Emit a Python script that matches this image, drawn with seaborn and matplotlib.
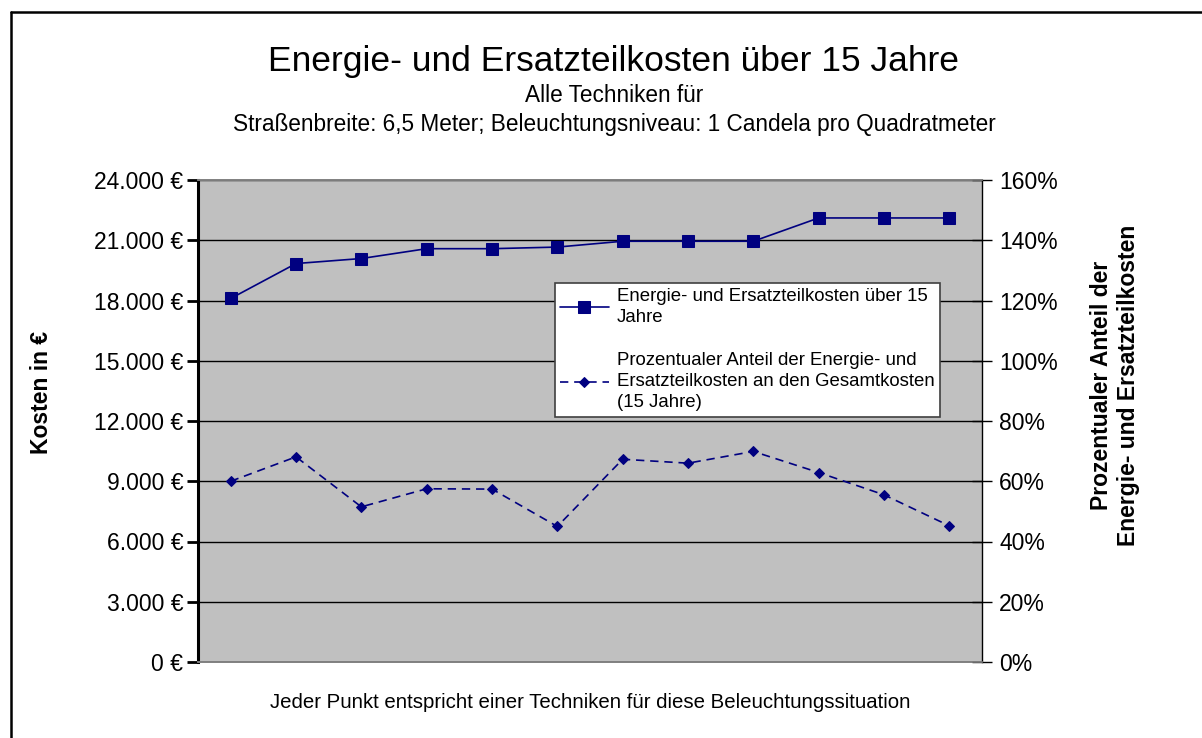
import numpy as np
import pandas as pd
import matplotlib
matplotlib.use("Agg")
import matplotlib.pyplot as plt
from matplotlib.lines import Line2D
from matplotlib.ticker import FuncFormatter, FixedLocator
import seaborn as sns

# ---- data ----
techniques = [f"T{i}" for i in range(1, 13)]
costs = [18100, 19840, 20090, 20580, 20580, 20660, 20950, 20950, 20950, 22110, 22110, 22110]
share = [60.0, 68.1, 51.5, 57.5, 57.4, 45.0, 67.3, 66.0, 69.9, 62.9, 55.5, 45.2]
left_ticks = [0, 3000, 6000, 9000, 12000, 15000, 18000, 21000, 24000]
right_ticks = [0, 20, 40, 60, 80, 100, 120, 140, 160]

title = "Energie- und Ersatzteilkosten über 15 Jahre"
subtitle1 = "Alle Techniken für"
subtitle2 = "Straßenbreite: 6,5 Meter; Beleuchtungsniveau: 1 Candela pro Quadratmeter"
xlabel = "Jeder Punkt entspricht einer Techniken für diese Beleuchtungssituation"
ylabel_left = "Kosten in €"
ylabel_right = "Prozentualer Anteil der\nEnergie- und Ersatzteilkosten"
label1 = "Energie- und Ersatzteilkosten über 15\nJahre"
label2 = "Prozentualer Anteil der Energie- und\nErsatzteilkosten an den Gesamtkosten\n(15 Jahre)"

df = pd.DataFrame({"technik": techniques, "pos": np.arange(len(techniques)),
                   "kosten": costs, "anteil": share})

sns.set_style("white")
plt.rcParams["font.family"] = ["Liberation Sans", "DejaVu Sans"]
plt.rcParams["text.color"] = "black"
plt.rcParams["axes.labelcolor"] = "black"
plt.rcParams["xtick.color"] = "black"
plt.rcParams["ytick.color"] = "black"

navy = "#000080"
fig = plt.figure(figsize=(12.02, 7.38), dpi=100)
ax = fig.add_axes([198/1202, 1-662/738, 784/1202, 482/738])
ax.set_facecolor("#C0C0C0")

sns.lineplot(data=df, x="pos", y="kosten", ax=ax, color=navy, marker="s",
             markersize=9, markeredgecolor=navy, linewidth=1.2, label=label1, legend=False)
ax2 = ax.twinx()
sns.lineplot(data=df, x="pos", y="anteil", ax=ax2, color=navy, marker="D",
             markersize=5, markeredgecolor=navy, linewidth=1.2, linestyle=(0, (5, 3.5)),
             label=label2, legend=False)

ax.set_xlim(-0.5, len(techniques) - 0.5)
ax.set_ylim(left_ticks[0], left_ticks[-1])
ax2.set_ylim(right_ticks[0], right_ticks[-1])
ax.set_xticks([])
ax.set_xlabel(xlabel, fontsize=14.7, labelpad=22, color="black")
ax.set_ylabel("")
ax2.set_ylabel("")

ax.yaxis.set_major_locator(FixedLocator(left_ticks))
ax.yaxis.set_major_formatter(FuncFormatter(lambda v, p: f"{int(v):,} €".replace(",", ".")))
ax2.yaxis.set_major_locator(FixedLocator(right_ticks))
ax2.yaxis.set_major_formatter(FuncFormatter(lambda v, p: f"{int(v)}%"))

ax.grid(axis="y", color="black", linewidth=1)
ax.set_axisbelow(True)
ax.tick_params(axis="y", direction="out", length=8, width=2, labelsize=16.5, pad=2.5,
               left=True, colors="black")
ax2.tick_params(axis="y", direction="inout", length=14, width=1, labelsize=16.5, pad=5.5,
                right=True, colors="black")

for a in (ax, ax2):
    a.spines["top"].set_color("#808080")
    a.spines["bottom"].set_color("#808080")
    a.spines["top"].set_linewidth(1.2)
    a.spines["bottom"].set_linewidth(1.2)
ax.spines["left"].set_color("black")
ax.spines["left"].set_linewidth(2.2)
ax2.spines["left"].set_visible(False)
ax.spines["right"].set_visible(False)
ax2.spines["right"].set_color("black")
ax2.spines["right"].set_linewidth(1)

# axis titles
fig.text(42/1202, 1-392/738, ylabel_left, rotation=90, ha="center", va="center",
         fontsize=16.5, fontweight="bold", color="black")
fig.text(1115/1202, 1-385/738, ylabel_right, rotation=90, ha="center", va="center",
         fontsize=16.5, fontweight="bold", linespacing=1.2, color="black")

# titles
fig.text(614/1202, 1-61/738, title, ha="center", va="center", fontsize=25.5, color="black")
fig.text(614/1202, 1-96/738, subtitle1, ha="center", va="center", fontsize=16.3, color="black")
fig.text(614/1202, 1-124/738, subtitle2, ha="center", va="center", fontsize=16.3, color="black")

# legend
h1 = ax.get_lines()[0]
h2 = ax2.get_lines()[0]
leg = ax2.legend([h1, h2], [label1, label2], loc="upper left",
                 bbox_to_anchor=(0.455, 0.787), frameon=True, fancybox=False,
                 fontsize=13.4, handlelength=2.6, handletextpad=0.45,
                 labelspacing=1.4, borderpad=0.3, borderaxespad=0)
for t in leg.get_texts():
    t.set_color("black")
    t.set_linespacing(1.3)
leg.get_frame().set_edgecolor("#404040")
leg.get_frame().set_linewidth(1.2)
leg.get_frame().set_facecolor("white")
leg.get_frame().set_alpha(1)

# outer frame
fig.add_artist(Line2D([11/1202, 11/1202], [0, 1-12/738], color="black", linewidth=1.8,
                      transform=fig.transFigure))
fig.add_artist(Line2D([11/1202, 1], [1-12/738, 1-12/738], color="black", linewidth=1.8,
                      transform=fig.transFigure))

fig.savefig("out.png", dpi=100, facecolor="white")
